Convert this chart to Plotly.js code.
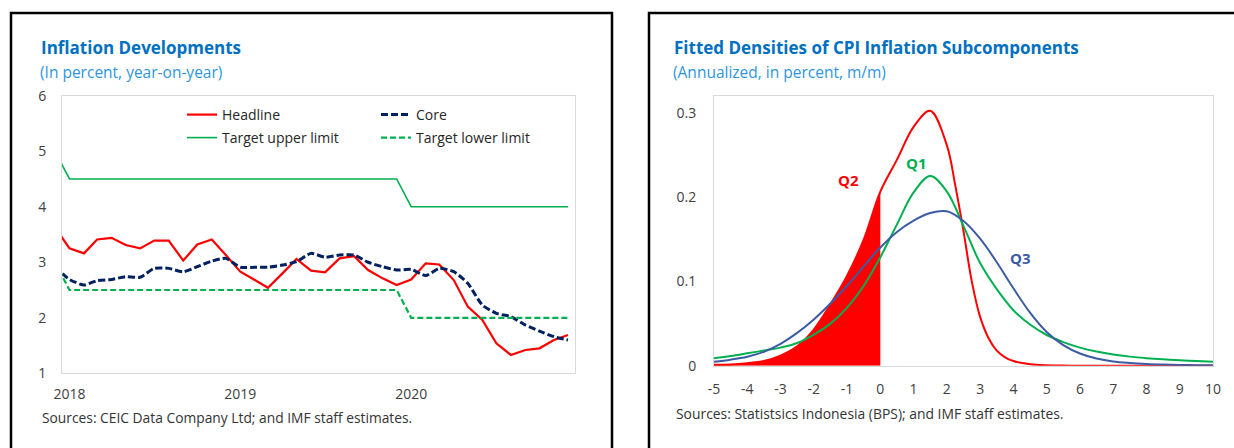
<!DOCTYPE html>
<html>
<head>
<meta charset="utf-8">
<script src="https://cdn.plot.ly/plotly-3.0.1.min.js"></script>
<style>
html,body{margin:0;padding:0;background:#fff;}
#chart{width:1234px;height:448px;}
</style>
</head>
<body>
<div id="chart"></div>
<script>
// ---------- Left panel data (monthly, Dec 2017 - Dec 2020) ----------
var months = ['2017-12-01',
  '2018-01-01','2018-02-01','2018-03-01','2018-04-01','2018-05-01','2018-06-01',
  '2018-07-01','2018-08-01','2018-09-01','2018-10-01','2018-11-01','2018-12-01',
  '2019-01-01','2019-02-01','2019-03-01','2019-04-01','2019-05-01','2019-06-01',
  '2019-07-01','2019-08-01','2019-09-01','2019-10-01','2019-11-01','2019-12-01',
  '2020-01-01','2020-02-01','2020-03-01','2020-04-01','2020-05-01','2020-06-01',
  '2020-07-01','2020-08-01','2020-09-01','2020-10-01','2020-11-01','2020-12-01'];
var headline = [3.63,
  3.25,3.16,3.41,3.44,3.31,3.25,3.39,3.39,3.03,3.32,3.41,3.13,
  2.83,2.68,2.54,2.80,3.06,2.85,2.82,3.07,3.11,2.86,2.71,2.59,
  2.69,2.98,2.96,2.68,2.20,1.96,1.54,1.33,1.42,1.45,1.60,1.69];
var core = [2.92,
  2.69,2.59,2.67,2.69,2.74,2.73,2.89,2.89,2.83,2.92,3.02,3.07,
  2.91,2.91,2.91,2.95,3.01,3.16,3.09,3.13,3.13,3.00,2.92,2.86,
  2.87,2.76,2.89,2.83,2.62,2.23,2.08,2.02,1.87,1.76,1.66,1.60];
var targetUpper = [5.0,
  4.5,4.5,4.5,4.5,4.5,4.5,4.5,4.5,4.5,4.5,4.5,4.5,
  4.5,4.5,4.5,4.5,4.5,4.5,4.5,4.5,4.5,4.5,4.5,4.5,
  4.0,4.0,4.0,4.0,4.0,4.0,4.0,4.0,4.0,4.0,4.0,4.0];
var targetLower = [3.0,
  2.5,2.5,2.5,2.5,2.5,2.5,2.5,2.5,2.5,2.5,2.5,2.5,
  2.5,2.5,2.5,2.5,2.5,2.5,2.5,2.5,2.5,2.5,2.5,2.5,
  2.0,2.0,2.0,2.0,2.0,2.0,2.0,2.0,2.0,2.0,2.0,2.0];
var leftTickVals = ['2018-01-01','2019-01-01','2020-01-01'];
var leftTickText = ['2018','2019','2020'];

// ---------- Right panel data (fitted densities) ----------
var densX = [-5,-4.5,-4,-3.5,-3,-2.5,-2,-1.5,-1,-0.5,0,0.5,1,1.5,2,2.5,3,3.5,4,4.5,5,5.5,6,6.5,7,7.5,8,8.5,9,9.5,10];
var q1 = [0.0088,0.0115,0.0147,0.018,0.0215,0.027,0.037,0.050,0.069,0.095,0.129,0.168,0.206,0.2255,0.207,0.166,0.122,0.091,0.066,0.049,0.0365,0.028,0.0215,0.0168,0.0133,0.0108,0.009,0.0076,0.0065,0.0056,0.0048];
var q3 = [0.0048,0.0072,0.0107,0.0165,0.026,0.039,0.055,0.074,0.095,0.118,0.1405,0.159,0.1725,0.1815,0.1835,0.172,0.151,0.123,0.092,0.063,0.040,0.0245,0.0145,0.0085,0.005,0.0032,0.002,0.0013,0.0009,0.0006,0.0004];
var q2X = [-5,-4.5,-4,-3.5,-3,-2.5,-2,-1.5,-1,-0.5,0,0.5,1,1.5,2,2.25,2.5,2.75,3,3.25,3.5,3.75,4,4.5,5,5.5,6,7,8,9,10];
var q2 = [0.001,0.0015,0.003,0.0055,0.012,0.023,0.043,0.073,0.107,0.150,0.207,0.245,0.284,0.303,0.262,0.215,0.160,0.100,0.058,0.033,0.018,0.010,0.0055,0.0018,0.0005,0.0001,0,0,0,0,0];
var rightXTickVals = [-5,-4,-3,-2,-1,0,1,2,3,4,5,6,7,8,9,10];
var rightXTickText = ['-5','-4','-3','-2','-1','0','1','2','3','4','5','6','7','8','9','10'];
var rightTickVals = [0,0.1,0.2,0.3];
var rightTickText = ['0','0.1','0.2','0.3'];

// Q2 shaded region (values at or below zero)
var fillX = [], fillY = [];
for (var i = 0; i < q2X.length; i++) {
  if (q2X[i] <= 0) { fillX.push(q2X[i]); fillY.push(q2[i]); }
}

var FONT = 'Open Sans, Noto Sans, sans-serif';
var W = 1234, H = 448;
function px(x){ return x / W; }
function py(y){ return 1 - y / H; }

var traces = [
  {x: months, y: headline, name: 'Headline', mode: 'lines', legend: 'legend',
   line: {color: '#FF0000', width: 2.2}, xaxis: 'x', yaxis: 'y'},
  {x: months, y: core, name: 'Core', mode: 'lines', legend: 'legend',
   line: {color: '#002060', width: 3, dash: '7px,3px', shape: 'spline', smoothing: 0.6}, xaxis: 'x', yaxis: 'y'},
  {x: months, y: targetUpper, name: 'Target upper limit', mode: 'lines', legend: 'legend2',
   line: {color: '#00B050', width: 1.6}, xaxis: 'x', yaxis: 'y'},
  {x: months, y: targetLower, name: 'Target lower limit', mode: 'lines', legend: 'legend2',
   line: {color: '#00B050', width: 2.2, dash: '6px,3px'}, xaxis: 'x', yaxis: 'y'},

  {x: fillX, y: fillY, mode: 'lines', fill: 'tozeroy', fillcolor: '#FF0000',
   line: {color: '#FF0000', width: 0, shape: 'spline'}, showlegend: false, xaxis: 'x2', yaxis: 'y2'},
  {x: q2X, y: q2, name: 'Q2', mode: 'lines', line: {color: '#FF0000', width: 2, shape: 'spline'},
   showlegend: false, xaxis: 'x2', yaxis: 'y2'},
  {x: densX, y: q1, name: 'Q1', mode: 'lines', line: {color: '#00B050', width: 2, shape: 'spline'},
   showlegend: false, xaxis: 'x2', yaxis: 'y2'},
  {x: densX, y: q3, name: 'Q3', mode: 'lines', line: {color: '#3B5BA5', width: 2, shape: 'spline'},
   showlegend: false, xaxis: 'x2', yaxis: 'y2'}
];

var axisCommon = {
  showline: true, mirror: true, linecolor: '#D9D9D9', linewidth: 1,
  showgrid: false, zeroline: false, ticks: 'outside', tickcolor: 'rgba(0,0,0,0)',
  tickfont: {family: FONT, size: 14, color: '#404040'}, fixedrange: true
};

var legendFont = {family: FONT, size: 14, color: '#262626'};

var layout = {
  width: W, height: H,
  margin: {l: 0, r: 0, t: 0, b: 0},
  paper_bgcolor: '#FFFFFF', plot_bgcolor: '#FFFFFF',
  font: {family: FONT, color: '#404040'},
  xaxis: Object.assign({}, axisCommon, {
    domain: [px(62), px(575)], anchor: 'y', type: 'date',
    range: ['2017-12-16', '2020-12-16'],
    tickmode: 'array', tickvals: leftTickVals, ticktext: leftTickText, ticklen: 8
  }),
  yaxis: Object.assign({}, axisCommon, {
    domain: [py(373.3), py(95.7)], anchor: 'x', range: [1, 6], dtick: 1, ticklen: 12
  }),
  xaxis2: Object.assign({}, axisCommon, {
    domain: [px(714), px(1213)], anchor: 'y2', range: [-5, 10],
    tickmode: 'array', tickvals: rightXTickVals, ticktext: rightXTickText, ticklen: 10
  }),
  yaxis2: Object.assign({}, axisCommon, {
    domain: [py(365.7), py(95.7)], anchor: 'x2', range: [0, 0.321],
    tickmode: 'array', tickvals: rightTickVals, ticktext: rightTickText, ticklen: 14
  }),
  legend: {
    orientation: 'h', x: px(182), y: py(115), xanchor: 'left', yanchor: 'middle',
    entrywidth: 149, bgcolor: 'rgba(0,0,0,0)', font: legendFont, traceorder: 'normal'
  },
  legend2: {
    orientation: 'h', x: px(182), y: py(138), xanchor: 'left', yanchor: 'middle',
    entrywidth: 149, bgcolor: 'rgba(0,0,0,0)', font: legendFont, traceorder: 'normal'
  },
  shapes: [
    {type: 'rect', xref: 'paper', yref: 'paper', x0: px(11), x1: px(612), y0: -0.2, y1: py(13),
     line: {color: '#000000', width: 2.5}, fillcolor: 'rgba(0,0,0,0)', layer: 'below'},
    {type: 'rect', xref: 'paper', yref: 'paper', x0: px(649), x1: 1.2, y0: -0.2, y1: py(13),
     line: {color: '#000000', width: 2.5}, fillcolor: 'rgba(0,0,0,0)', layer: 'below'}
  ],
  annotations: [
    {text: '<b>Inflation Developments</b>', xref: 'paper', yref: 'paper', x: px(39), y: py(48),
     xanchor: 'left', yanchor: 'middle', showarrow: false, font: {family: FONT, size: 17, color: '#0070C0'}},
    {text: '(In percent, year-on-year)', xref: 'paper', yref: 'paper', x: px(38), y: py(72),
     xanchor: 'left', yanchor: 'middle', showarrow: false, font: {family: FONT, size: 15.5, color: '#2E96E0'}},
    {text: 'Sources: CEIC Data Company Ltd; and IMF staff estimates.', xref: 'paper', yref: 'paper',
     x: px(40), y: py(417), xanchor: 'left', yanchor: 'middle', showarrow: false,
     font: {family: FONT, size: 13.8, color: '#333333'}},
    {text: '<b>Fitted Densities of CPI Inflation Subcomponents</b>', xref: 'paper', yref: 'paper',
     x: px(672), y: py(48), xanchor: 'left', yanchor: 'middle', showarrow: false,
     font: {family: FONT, size: 17, color: '#0070C0'}},
    {text: '(Annualized, in percent, m/m)', xref: 'paper', yref: 'paper', x: px(671), y: py(72),
     xanchor: 'left', yanchor: 'middle', showarrow: false, font: {family: FONT, size: 15.5, color: '#2E96E0'}},
    {text: 'Sources: Statistsics Indonesia (BPS); and IMF staff estimates.', xref: 'paper', yref: 'paper',
     x: px(674), y: py(413), xanchor: 'left', yanchor: 'middle', showarrow: false,
     font: {family: FONT, size: 13.9, color: '#333333'}},
    {text: '<b>Q1</b>', xref: 'x2', yref: 'y2', x: 1.1, y: 0.241, showarrow: false,
     font: {family: FONT, size: 15, color: '#00B050'}},
    {text: '<b>Q2</b>', xref: 'x2', yref: 'y2', x: -0.97, y: 0.221, showarrow: false,
     font: {family: FONT, size: 15, color: '#FF0000'}},
    {text: '<b>Q3</b>', xref: 'x2', yref: 'y2', x: 4.2, y: 0.128, showarrow: false,
     font: {family: FONT, size: 15, color: '#3B5BA5'}}
  ]
};

Plotly.newPlot('chart', traces, layout, {staticPlot: true, displayModeBar: false});
</script>
</body>
</html>
